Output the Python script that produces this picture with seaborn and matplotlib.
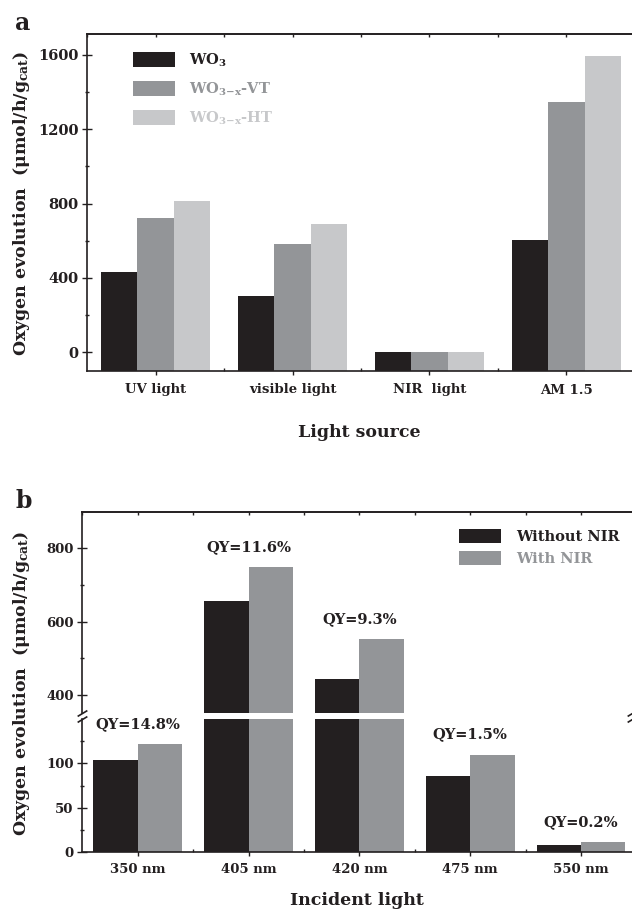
import numpy as np
import pandas as pd
import matplotlib
matplotlib.use('Agg')
import matplotlib.pyplot as plt
from matplotlib.ticker import FixedLocator
import seaborn as sns

# panel a data
sources = ['UV light', 'visible light', 'NIR  light', 'AM 1.5']
wo3 = [430, 305, 0, 605]
wo3x_vt = [725, 585, 0, 1345]
wo3x_ht = [815, 690, 0, 1595]
samples = ['WO$_3$', 'WO$_{3{-}x}$-VT', 'WO$_{3{-}x}$-HT']

# panel b data
wavelengths = ['350 nm', '405 nm', '420 nm', '475 nm', '550 nm']
without_nir = [104, 656, 445, 86, 8]
with_nir = [122, 748, 553, 110, 11]
qy = ['QY=14.8%', 'QY=11.6%', 'QY=9.3%', 'QY=1.5%', 'QY=0.2%']
conditions = ['Without NIR', 'With NIR']

sns.set_theme(style='ticks')
plt.rcParams['font.family'] = ['DejaVu Serif']
plt.rcParams['font.weight'] = 'bold'
plt.rcParams['mathtext.default'] = 'regular'

ink = '#231f20'
colors_a = ['#231f20', '#939598', '#c7c8ca']
colors_b = ['#231f20', '#939598']

df_a = pd.DataFrame({'source': sources * 3,
                     'sample': np.repeat(samples, len(sources)),
                     'value': wo3 + wo3x_vt + wo3x_ht})
df_b = pd.DataFrame({'wl': wavelengths * 2,
                     'cond': np.repeat(conditions, len(wavelengths)),
                     'value': without_nir + with_nir})

W, H = 632, 910
fig = plt.figure(figsize=(W / 100, H / 100), dpi=100)


def box(l, t, r, b):
    return [l / W, 1 - b / H, (r - l) / W, (b - t) / H]


def style_spines(ax, hide):
    for s in ax.spines:
        ax.spines[s].set_color(ink)
        ax.spines[s].set_linewidth(1.2)
    for s in hide:
        ax.spines[s].set_visible(False)


def top_ticks(ax, n):
    sec = ax.secondary_xaxis('top')
    sec.set_xticks(np.arange(-0.5, n, 0.5))
    sec.tick_params(direction='in', length=2.5, width=1, color=ink, labeltop=False)
    sec.spines['top'].set_color(ink)
    sec.spines['top'].set_linewidth(1.2)


# ---------- panel a ----------
ax = fig.add_axes(box(87.3, 34.3, 632, 371))
sns.barplot(data=df_a, x='source', y='value', hue='sample', palette=colors_a,
            saturation=1, width=0.8, errorbar=None, legend=False,
            edgecolor='none', ax=ax)
ymin = -100
ax.set_ylim(ymin, 1710)
ax.set_xlim(-0.5, 3.48)
# bars rise from the bottom of the frame
for p in ax.patches:
    p.set_height(p.get_height() - ymin)
    p.set_y(ymin)
ax.set_yticks([0, 400, 800, 1200, 1600])
ax.yaxis.set_minor_locator(FixedLocator([200, 600, 1000, 1400]))
ax.set_xticks(np.arange(0.5, 3.5, 1), minor=True)
ax.tick_params(axis='y', which='major', direction='inout', length=6.5, width=1,
               labelsize=10.5, pad=3, color=ink, labelcolor=ink)
ax.tick_params(axis='y', which='minor', direction='inout', length=3.5, width=1, color=ink)
ax.tick_params(axis='x', which='major', direction='inout', length=6, width=1,
               labelsize=9.5, pad=6, color=ink, labelcolor=ink)
ax.tick_params(axis='x', which='minor', direction='in', length=2.5, width=1, color=ink)
ax.set_xlabel('')
ax.set_ylabel('')
style_spines(ax, ['right'])
top_ticks(ax, 4)
leg = ax.legend(ax.containers, samples, loc='upper left', bbox_to_anchor=(0.0839, 0.948),
                frameon=False, fontsize=10.5, handlelength=2.88, handleheight=1.2,
                handletextpad=0.95, labelspacing=0.78, borderpad=0, borderaxespad=0)
for t, c in zip(leg.get_texts(), colors_a):
    t.set_color(c)

fig.text(15 / W, 1 - 30 / H, 'a', fontsize=17, fontweight='bold', color=ink, va='baseline')
fig.text(0.034, 1 - 203 / H, 'Oxygen evolution  (μmol/h/g$_{cat}$)', rotation=90,
         ha='center', va='center', fontsize=12.5, fontweight='bold', color=ink)
fig.text(359.6 / W, 1 - 437 / H, 'Light source', ha='center', va='baseline',
         fontsize=12.5, fontweight='bold', color=ink)

# ---------- panel b (broken axis) ----------
ax_up = fig.add_axes(box(82.3, 511.7, 632, 712.7))
ax_lo = fig.add_axes(box(82.3, 719.3, 632, 851.7))
for a in (ax_up, ax_lo):
    sns.barplot(data=df_b, x='wl', y='value', hue='cond', palette=colors_b,
                saturation=1, width=0.8, errorbar=None, legend=False,
                edgecolor='none', ax=a)
    a.set_xlim(-0.5, 4.46)
    a.set_xlabel('')
    a.set_ylabel('')
    a.tick_params(axis='y', which='major', direction='inout', length=6.5, width=1,
                  labelsize=9.5, pad=3, color=ink, labelcolor=ink)
    a.tick_params(axis='y', which='minor', direction='inout', length=3.5, width=1, color=ink)

ax_up.set_ylim(352, 900)
ax_up.set_yticks([400, 600, 800])
ax_up.yaxis.set_minor_locator(FixedLocator([500, 700]))
ax_up.tick_params(axis='x', which='both', bottom=False, labelbottom=False)
style_spines(ax_up, ['right', 'bottom'])
top_ticks(ax_up, 5)

ax_lo.set_ylim(0, 150)
ax_lo.set_yticks([0, 50, 100])
ax_lo.yaxis.set_minor_locator(FixedLocator([25, 75, 125]))
ax_lo.set_xticks(np.arange(0.5, 4.5, 1), minor=True)
ax_lo.tick_params(axis='x', which='major', direction='inout', length=6, width=1,
                  labelsize=9.5, pad=5, color=ink, labelcolor=ink)
ax_lo.tick_params(axis='x', which='minor', direction='in', length=2.5, width=1, color=ink)
style_spines(ax_lo, ['right', 'top'])

# break marks
kw = dict(marker=[(-1, -0.6), (1, 0.6)], markersize=7, linestyle='none',
          color=ink, mec=ink, mew=1.2, clip_on=False)
ax_up.plot([0, 1], [0, 0], transform=ax_up.transAxes, **kw)
ax_lo.plot([0, 1], [1, 1], transform=ax_lo.transAxes, **kw)

# quantum yield labels
for i, label in enumerate(qy):
    top = max(without_nir[i], with_nir[i])
    a = ax_up if top > 150 else ax_lo
    a.annotate(label, xy=(i, top), xytext=(0, 14.5), textcoords='offset points',
               ha='center', va='center', fontsize=10.5, fontweight='bold',
               color=ink, annotation_clip=False)

leg = ax_up.legend(ax_up.containers, conditions, loc='upper left',
                   bbox_to_anchor=(0.6853, 0.915), frameon=False, fontsize=10.5,
                   handlelength=2.88, handleheight=1.15, handletextpad=1.05,
                   labelspacing=0.45, borderpad=0, borderaxespad=0)
for t, c in zip(leg.get_texts(), colors_b):
    t.set_color(c)

fig.text(16 / W, 1 - 508 / H, 'b', fontsize=17, fontweight='bold', color=ink, va='baseline')
fig.text(0.034, 1 - 683 / H, 'Oxygen evolution  (μmol/h/g$_{cat}$)', rotation=90,
         ha='center', va='center', fontsize=12.5, fontweight='bold', color=ink)
fig.text(357 / W, 1 - 905 / H, 'Incident light', ha='center', va='baseline',
         fontsize=12.5, fontweight='bold', color=ink)

fig.savefig('out.png', dpi=100)
